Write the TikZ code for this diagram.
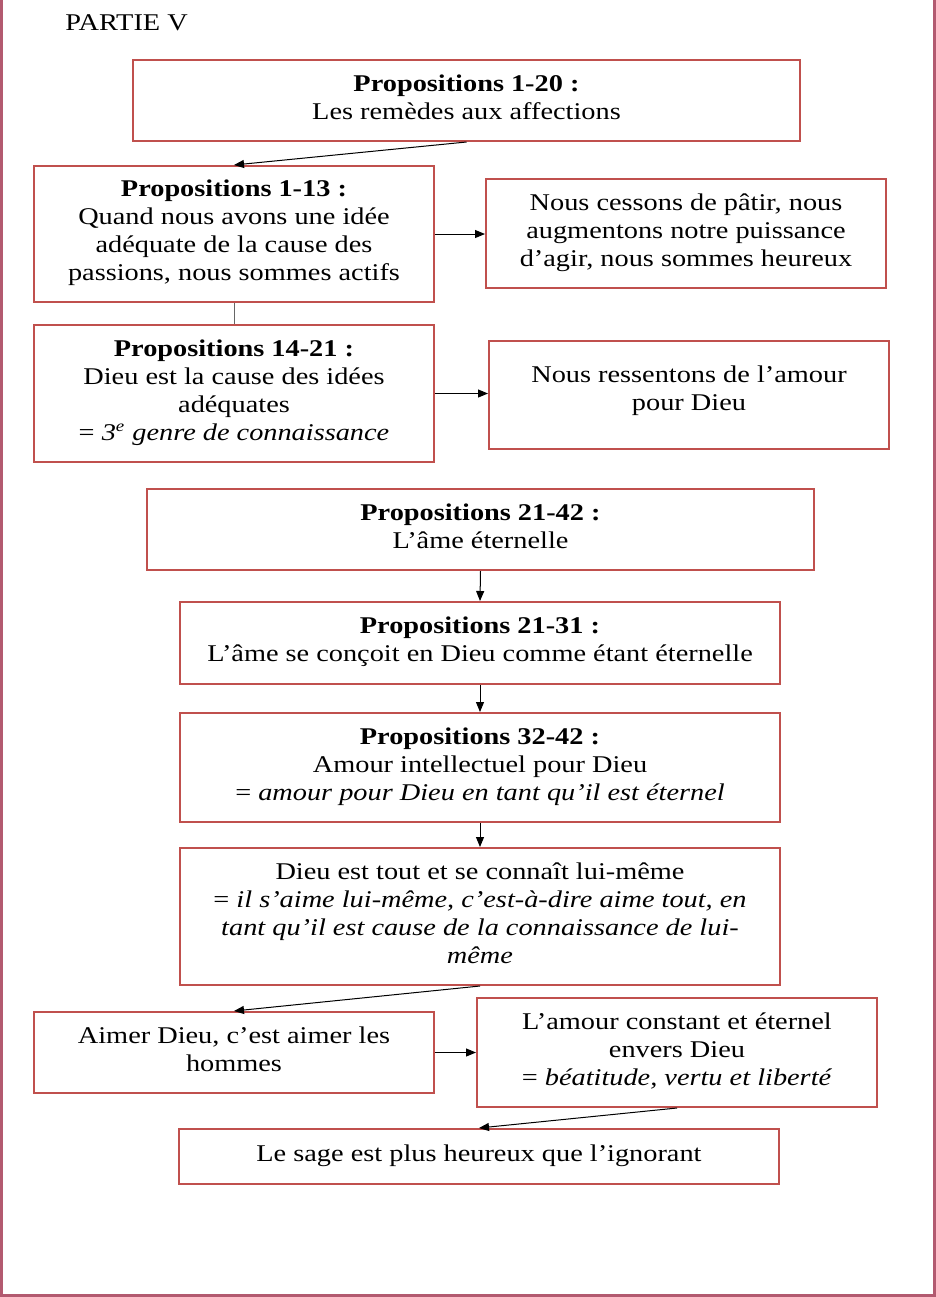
\documentclass[tikz,border=0pt]{standalone}
\usepackage{fontspec}
\setmainfont{Liberation Serif}[FakeStretch=1.18]
\usepackage{xcolor}
\usetikzlibrary{arrows.meta}
\definecolor{boxred}{HTML}{C0504D}
\definecolor{framerose}{HTML}{B35A70}

\begin{document}
\begin{tikzpicture}%
                [x=0.5pt, y=-0.5pt,
                every node/.style={font=\fontsize{12}{14}\selectfont},
                box/.style={draw=boxred, line width=1pt, align=center, inner sep=0pt,
                            execute at end node={\rule[-3.5pt]{0pt}{3.5pt}}},
                link/.style={line width=0.5pt, -{Triangle[length=5pt,width=4pt]}},
                plain/.style={line width=0.5pt, draw=black!60}]
            %% Page frame
            \useasboundingbox (0,0) rectangle (936,1297);
            \draw[framerose, line width=1.5pt] (1.5,0) -- (1.5,1295.5) -- (934.5,1295.5) -- (934.5,0);
            %% Title
            \node[anchor=base west, inner sep=0pt] (titre) at (65,30) {PARTIE V};
            %%
            %% Part one: the remedies
            %%
            \node[box, minimum width=333.5pt, minimum height=40.5pt] (p1-20) at (466.5,100.5)
                {\textbf{Propositions 1-20 :}\\Les remèdes aux affections};
            \node[box, minimum width=200pt, minimum height=68pt] (p1-13) at (234,234)
                {\textbf{Propositions 1-13 :}\\Quand nous avons une idée\\adéquate de la cause des\\passions, nous sommes actifs};
            \node[box, minimum width=200pt, minimum height=54.5pt] (heureux) at (686,233.5)
                {Nous cessons de pâtir, nous\\augmentons notre puissance\\d’agir, nous sommes heureux};
            \node[box, minimum width=200pt, minimum height=68.5pt] (p14-21) at (234,393.5)
                {\textbf{Propositions 14-21 :}\\Dieu est la cause des idées\\adéquates\\= \textit{3\textsuperscript{e} genre de connaissance}};
            \node[box, minimum width=200pt, minimum height=54pt] (amour) at (689,395)
                {Nous ressentons de l’amour\\pour Dieu\rule[-7pt]{0pt}{7pt}};
            %%
            %% Part two: the eternal soul
            %%
            \node[box, minimum width=333.5pt, minimum height=40.5pt] (p21-42) at (480.5,529.5)
                {\textbf{Propositions 21-42 :}\\L’âme éternelle};
            \node[box, minimum width=300pt, minimum height=41pt] (p21-31) at (480,643)
                {\textbf{Propositions 21-31 :}\\L’âme se conçoit en Dieu comme étant éternelle};
            \node[box, minimum width=300pt, minimum height=54.5pt] (p32-42) at (480,767.5)
                {\textbf{Propositions 32-42 :}\\Amour intellectuel pour Dieu\\= \textit{amour pour Dieu en tant qu’il est éternel}};
            \node[box, minimum width=300pt, minimum height=68.5pt] (tout) at (480,916.5)
                {Dieu est tout et se connaît lui-même\\= \textit{il s’aime lui-même, c’est-à-dire aime tout, en}\\\textit{tant qu’il est cause de la connaissance de lui-}\\\textit{même}};
            \node[box, minimum width=200pt, minimum height=40.5pt] (hommes) at (234,1052.5)
                {Aimer Dieu, c’est aimer les\\hommes};
            \node[box, minimum width=200pt, minimum height=54.5pt] (constant) at (677,1052.5)
                {L’amour constant et éternel\\envers Dieu\\= \textit{béatitude, vertu et liberté}};
            \node[box, minimum width=300pt, minimum height=27.5pt] (sage) at (479,1156.5)
                {Le sage est plus heureux que l’ignorant};
            %%
            %% Connectors
            %%
            \draw[link] (p1-20.south) -- (p1-13.north);
            \draw[link] (p1-13.east) -- (p1-13.east -| heureux.west);
            \draw[plain] (p1-13.south) -- (p14-21.north);
            \draw[link] (p14-21.east) -- (p14-21.east -| amour.west);
            \draw[link] (p21-42.south) -- (p21-31.north);
            \draw[link] (p21-31.south) -- (p32-42.north);
            \draw[link] (p32-42.south) -- (tout.north);
            \draw[link] (tout.south) -- (hommes.north);
            \draw[link] (hommes.east) -- (constant.west);
            \draw[link] (constant.south) -- (sage.north);
            %%
\end{tikzpicture}
\end{document}
